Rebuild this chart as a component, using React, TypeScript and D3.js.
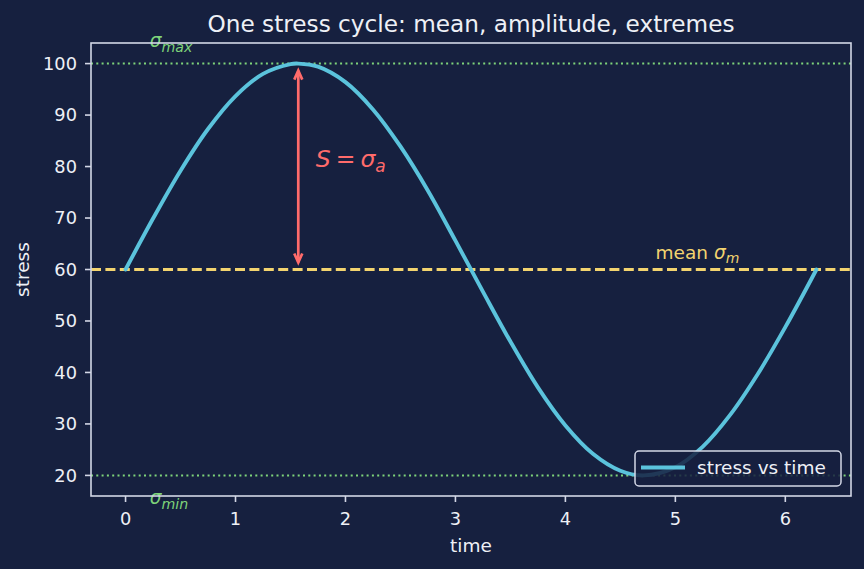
import React from 'react';
import * as d3 from 'd3';

// one full load cycle, sampled along the time axis
const times = [
  0, 0.25, 0.5, 0.75, 1.0, 1.25, 1.5, 1.5708, 1.75, 2.0, 2.25, 2.5, 2.75, 3.0,
  3.25, 3.5, 3.75, 4.0, 4.25, 4.5, 4.7124, 5.0, 5.25, 5.5, 5.75, 6.0, 6.2832,
];
const stress = [
  60, 69.9, 79.2, 87.3, 93.7, 98.0, 99.9, 100, 99.4, 96.4, 91.1, 83.9, 75.3, 65.6,
  55.7, 46.0, 37.1, 29.7, 24.2, 20.9, 20, 21.6, 25.6, 31.8, 39.7, 48.8, 60,
];

const sigmaMax = 100;
const sigmaMin = 20;
const sigmaMean = 60;
const peakTime = 1.5708;

const xTicks = [0, 1, 2, 3, 4, 5, 6];
const yTicks = [20, 30, 40, 50, 60, 70, 80, 90, 100];

const W = 864;
const H = 569;
const BG = '#16203f';
const FG = '#eef0f6';
const SPINE = '#d3d7e6';
const CURVE = '#5bc3dc';
const RED = '#ff6b6b';
const GOLD = '#f3d46f';
const GREEN = '#7ed37a';
const FONT = 'DejaVu Sans, sans-serif';

export default function App() {
  const x = d3.scaleLinear().domain([-0.3142, 6.5974]).range([91, 851]);
  const y = d3.scaleLinear().domain([16, 104]).range([496, 43]);

  const pts = times.map((t, i) => [t, stress[i]] as [number, number]);
  const line = d3
    .line<[number, number]>()
    .x(d => x(d[0]))
    .y(d => y(d[1]))
    .curve(d3.curveCatmullRom.alpha(0.5));

  const [x0, x1] = x.range();
  const [yb, yt] = y.range();

  // amplitude arrow, shrunk a little at both ends
  const ax = x(peakTime);
  const aTop = y(sigmaMax) + 7;
  const aBot = y(sigmaMean) - 7;
  const hl = 9;
  const hw = 4;

  return (
    <svg width={W} height={H}
      style={{ position: 'fixed', left: 0, top: 0, display: 'block', fontFamily: FONT }}>
      <rect width={W} height={H} fill={BG} />

      {/* extremes */}
      {[sigmaMax, sigmaMin].map(v => (
        <line key={v} x1={x0} x2={x1} y1={y(v)} y2={y(v)}
          stroke={GREEN} strokeWidth={2} strokeDasharray="2,3.3" />
      ))}

      {/* mean */}
      <line x1={x0} x2={x1} y1={y(sigmaMean)} y2={y(sigmaMean)}
        stroke={GOLD} strokeWidth={2.8} strokeDasharray="10,4.4" />

      <path d={line(pts) ?? ''} fill="none" stroke={CURVE} strokeWidth={3.9} strokeLinecap="round" />

      {/* amplitude arrow */}
      <g stroke={RED} strokeWidth={2.7} fill="none" strokeLinejoin="miter">
        <line x1={ax} x2={ax} y1={aTop} y2={aBot} />
        <polyline points={`${ax - hw},${aTop + hl} ${ax},${aTop} ${ax + hw},${aTop + hl}`} />
        <polyline points={`${ax - hw},${aBot - hl} ${ax},${aBot} ${ax + hw},${aBot - hl}`} />
      </g>

      {/* annotations */}
      <text x={x(0.22)} y={y(103.2)} fill={GREEN} fontSize={18.5} fontStyle="italic">
        σ<tspan fontSize={14.2} dy={5}>max</tspan>
      </text>
      <text x={x(0.22)} y={y(14.4)} fill={GREEN} fontSize={18.5} fontStyle="italic">
        σ<tspan fontSize={14.2} dy={5}>min</tspan>
      </text>
      <text x={x(1.73)} y={y(79.9)} fill={RED} fontSize={23.5}>
        <tspan fontStyle="italic">S</tspan>
        <tspan dx={5}>=</tspan>
        <tspan dx={5} fontStyle="italic">σ</tspan>
        <tspan fontStyle="italic" fontSize={17} dy={5}>a</tspan>
      </text>
      <text x={x(4.82)} y={y(62.1)} fill={GOLD} fontSize={18.5}>
        mean <tspan fontStyle="italic">σ</tspan>
        <tspan fontStyle="italic" fontSize={14} dy={4}>m</tspan>
      </text>

      {/* spines */}
      <rect x={x0} y={yt} width={x1 - x0} height={yb - yt} fill="none" stroke={SPINE} strokeWidth={1.6} />

      {/* ticks */}
      <g fill={FG} fontSize={17.8}>
        {xTicks.map(t => (
          <g key={t}>
            <line x1={x(t)} x2={x(t)} y1={yb} y2={yb + 6} stroke={SPINE} strokeWidth={1.6} />
            <text x={x(t)} y={yb + 29} textAnchor="middle">{t}</text>
          </g>
        ))}
        {yTicks.map(t => (
          <g key={t}>
            <line x1={x0 - 6} x2={x0} y1={y(t)} y2={y(t)} stroke={SPINE} strokeWidth={1.6} />
            <text x={x0 - 14} y={y(t)} dy="0.35em" textAnchor="end">{t}</text>
          </g>
        ))}
      </g>

      <text x={(x0 + x1) / 2} y={552} fill={FG} fontSize={18.5} textAnchor="middle">time</text>
      <text transform={`translate(29,${(yt + yb) / 2}) rotate(-90)`} fill={FG} fontSize={18.5} textAnchor="middle">stress</text>
      <text x={(x0 + x1) / 2} y={32} fill={FG} fontSize={23.2} textAnchor="middle">
        One stress cycle: mean, amplitude, extremes
      </text>

      {/* legend */}
      <g>
        <rect x={635} y={451} width={206} height={35} rx={4} fill={BG} fillOpacity={0.85}
          stroke={SPINE} strokeWidth={1.5} />
        <line x1={641} x2={685} y1={467.5} y2={467.5} stroke={CURVE} strokeWidth={3.9} />
        <text x={697} y={474} fill={FG} fontSize={18.5}>stress vs time</text>
      </g>
    </svg>
  );
}
